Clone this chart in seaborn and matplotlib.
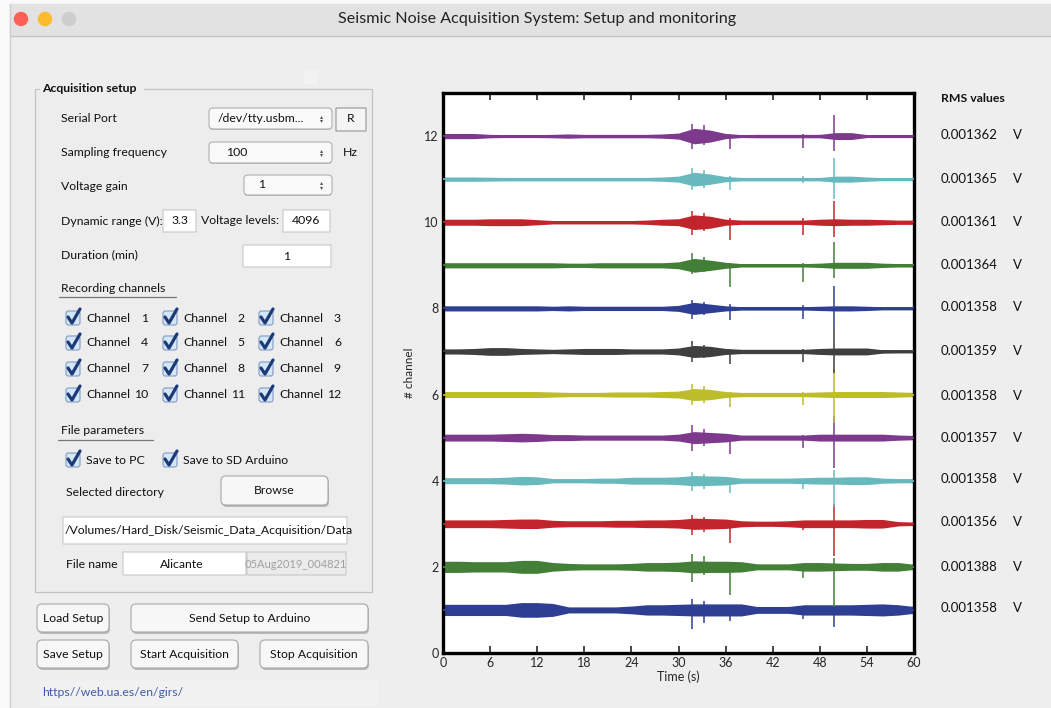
import numpy as np
import pandas as pd
import matplotlib
matplotlib.use("Agg")
import matplotlib.pyplot as plt
from matplotlib.patches import Rectangle, FancyBboxPatch, Circle
import seaborn as sns

# ---- data ----
time_s = list(range(0, 61, 2))
channels = list(range(1, 13))
channel_colors = ["#2E3F93", "#447F38", "#C2242B", "#68B9BE", "#7D3A8C", "#BDBD2C",
                  "#3F3F3F", "#2E3F93", "#447F38", "#C2242B", "#68B9BE", "#7D3A8C"]

# half-width of the noise band (channel units) every 2 s
env_ch1 = [.13, .13, .13, .13, .13, .17, .17, .15, .07, .07, .07, .07, .09, .12, .12, .13, .14, .14, .14, .14, .08, .08, .08, .12, .12, .12, .12, .13, .14, .12, .08]
env_ch2 = [.13, .13, .12, .12, .12, .15, .15, .10, .08, .07, .07, .07, .08, .10, .10, .11, .14, .13, .13, .12, .07, .07, .07, .10, .10, .09, .08, .08, .10, .10, .06]
env_ch3 = [.09, .09, .09, .09, .10, .11, .11, .08, .07, .07, .07, .08, .08, .09, .09, .10, .13, .12, .11, .07, .06, .06, .07, .09, .09, .09, .09, .10, .10, .05, .04]
env_ch4 = [.07, .07, .07, .07, .08, .10, .09, .05, .05, .05, .06, .06, .08, .08, .08, .09, .12, .11, .10, .06, .06, .06, .06, .07, .08, .08, .09, .09, .06, .05, .05]
env_ch5 = [.08, .08, .08, .08, .09, .10, .09, .07, .07, .06, .06, .06, .06, .06, .06, .08, .14, .12, .10, .06, .06, .06, .06, .06, .08, .08, .08, .08, .08, .06, .05]
env_ch6 = [.07, .07, .07, .07, .07, .07, .07, .06, .05, .05, .05, .06, .06, .06, .07, .08, .14, .12, .07, .05, .05, .05, .05, .05, .06, .07, .07, .07, .07, .06, .05]
env_ch7 = [.06, .06, .07, .09, .09, .07, .06, .05, .06, .07, .07, .07, .06, .06, .06, .08, .14, .12, .07, .05, .05, .05, .05, .05, .07, .08, .08, .08, .04, .035, .035]
env_ch8 = [.06, .06, .06, .06, .06, .06, .06, .05, .06, .05, .05, .05, .05, .05, .05, .07, .14, .10, .06, .04, .04, .04, .04, .04, .05, .06, .06, .05, .035, .035, .035]
env_ch9 = [.06, .06, .06, .06, .06, .06, .06, .06, .05, .05, .06, .06, .06, .06, .06, .08, .16, .12, .07, .04, .04, .04, .04, .04, .05, .07, .07, .07, .05, .04, .04]
env_ch10 = [.07, .07, .07, .08, .08, .08, .06, .04, .04, .04, .04, .04, .04, .05, .07, .08, .17, .14, .07, .05, .05, .05, .05, .05, .07, .08, .07, .07, .06, .05, .05]
env_ch11 = [.05, .05, .05, .045, .04, .04, .04, .04, .04, .04, .04, .04, .04, .04, .05, .07, .16, .12, .06, .04, .04, .04, .04, .04, .04, .07, .07, .05, .035, .035, .035]
env_ch12 = [.06, .06, .06, .04, .035, .035, .035, .04, .05, .04, .04, .04, .04, .04, .05, .07, .18, .14, .06, .035, .04, .04, .04, .04, .04, .08, .08, .035, .035, .035, .035]

# transient spikes seen on every channel
spike_times = [31.7, 33.3, 36.6, 45.9, 49.8]
up_ch1 = [.25, .20, .05, .05, .05];  down_ch1 = [.45, .30, .25, .20, .40]
up_ch2 = [.30, .25, .10, .05, .20];  down_ch2 = [.35, .20, .65, .25, .94]
up_ch3 = [.20, .15, .05, .05, .45];  down_ch3 = [.25, .20, .45, .15, .75]
up_ch4 = [.20, .15, .05, .05, .24];  down_ch4 = [.25, .20, .28, .20, .60]
up_ch5 = [.30, .20, .05, .05, .50];  down_ch5 = [.30, .20, .38, .25, .70]
up_ch6 = [.25, .20, .05, .05, .60];  down_ch6 = [.25, .20, .28, .25, .65]
up_ch7 = [.25, .15, .05, .05, .55];  down_ch7 = [.25, .15, .28, .25, .50]
up_ch8 = [.20, .15, .10, .08, .52];  down_ch8 = [.25, .15, .28, .25, .45]
up_ch9 = [.28, .20, .05, .05, .55];  down_ch9 = [.20, .15, .50, .38, .30]
up_ch10 = [.25, .22, .10, .10, .50]; down_ch10 = [.30, .20, .42, .30, .35]
up_ch11 = [.25, .22, .08, .08, .50]; down_ch11 = [.25, .20, .25, .10, .45]
up_ch12 = [.28, .25, .05, .05, .50]; down_ch12 = [.30, .20, .30, .27, .35]

rms_values = ["0.001358", "0.001388", "0.001356", "0.001358", "0.001357", "0.001358",
              "0.001359", "0.001358", "0.001364", "0.001361", "0.001365", "0.001362"]
x_ticks = [0, 6, 12, 18, 24, 30, 36, 42, 48, 54, 60]
y_ticks = [0, 2, 4, 6, 8, 10, 12]

envs = [env_ch1, env_ch2, env_ch3, env_ch4, env_ch5, env_ch6,
        env_ch7, env_ch8, env_ch9, env_ch10, env_ch11, env_ch12]
ups = [up_ch1, up_ch2, up_ch3, up_ch4, up_ch5, up_ch6,
       up_ch7, up_ch8, up_ch9, up_ch10, up_ch11, up_ch12]
downs = [down_ch1, down_ch2, down_ch3, down_ch4, down_ch5, down_ch6,
         down_ch7, down_ch8, down_ch9, down_ch10, down_ch11, down_ch12]

traces = pd.DataFrame({
    "Time": np.tile(time_s, len(channels)),
    "Channel": np.repeat(channels, len(time_s)),
    "Half": np.concatenate(envs),
})

sns.set_style("white")
plt.rcParams["font.family"] = ["Lato", "DejaVu Sans"]

W, H = 1051, 708
fig = plt.figure(figsize=(W / 100, H / 100), dpi=100)

# ---- window / GUI drawn in pixel coordinates ----
gui = fig.add_axes([0, 0, 1, 1])
gui.set_xlim(0, W)
gui.set_ylim(H, 0)
gui.axis("off")

gui.add_patch(Rectangle((0, 0), W, H, color="#FAFAFA", zorder=0))
gui.add_patch(Rectangle((10, 4), W - 10, H, color="#EEEEEE", zorder=1))
gui.add_patch(Rectangle((10, 4), W - 10, 32, color="#E2E2E2", zorder=1))
gui.plot([10, W], [36, 36], color="#C4C4C4", lw=1, zorder=2)
gui.plot([10, 10], [4, H], color="#D0D0D0", lw=1, zorder=2)
for cx, col in [(21, "#FE5F57"), (45, "#FDBB2E"), (69, "#CDCDCD")]:
    gui.add_patch(Circle((cx, 19), 6.5, color=col, zorder=3))
gui.text(537, 19, "Seismic Noise Acquisition System: Setup and monitoring",
         ha="center", va="center", fontsize=11.6, color="#222222", zorder=3)

fs = 8.8


def label(x, y, s, **kw):
    kw.setdefault("fontsize", fs)
    kw.setdefault("color", "#111111")
    gui.text(x, y, s, va="center", zorder=5, **kw)


def box(x0, y0, x1, y1, face="white", edge="#C9C9C9", rnd=0, lw=0.8):
    gui.add_patch(FancyBboxPatch((x0, y0), x1 - x0, y1 - y0,
                                 boxstyle=f"round,pad=0,rounding_size={rnd}",
                                 fc=face, ec=edge, lw=lw, zorder=4))


def button(x0, y0, x1, y1, s):
    box(x0 + 1, y0 + 2, x1 + 1, y1 + 2, face="#B9B9B9", edge="none", rnd=5)
    box(x0, y0, x1, y1, face="#F7F7F7", edge="#A8A8A8", rnd=5)
    gui.text((x0 + x1) / 2, (y0 + y1) / 2, s, ha="center", va="center",
             fontsize=fs, color="#111111", zorder=5)


def popup(x0, y0, x1, y1, s, tx):
    box(x0, y0 + 1, x1, y1 + 1, face="#BDBDBD", edge="none", rnd=4)
    box(x0, y0, x1, y1, face="#F9F9F9", edge="#B0B0B0", rnd=4)
    label(tx, (y0 + y1) / 2, s)
    gui.text(x1 - 10, (y0 + y1) / 2, "\u25B4\n\u25BE", ha="center", va="center",
             fontsize=4.5, linespacing=0.8, color="#555555", zorder=5)


def checkbox(x, y, s, num=None):
    box(x - 7, y - 7, x + 7, y + 7, face="#D5E6F8", edge="#7F9CC2", rnd=2.5)
    gui.plot([x - 5, x - 1, x + 7], [y - 1, y + 5, y - 9], color="#1C3A78",
             lw=2.3, solid_capstyle="round", solid_joinstyle="round", zorder=6)
    label(x + 13, y, s)
    if num is not None:
        label(x + 75, y, str(num), ha="right")


# group box
gui.add_patch(Rectangle((35, 89), 337, 503, fc="#EDEDED", ec="#C2C2C2", lw=0.9, zorder=3))
gui.add_patch(Rectangle((40, 82), 104, 14, fc="#EEEEEE", ec="none", zorder=4))
label(42, 89, "Acquisition setup", fontweight="bold")
gui.add_patch(Rectangle((304, 70), 14, 14, fc="#F2F2F2", ec="none", zorder=2))

label(61, 118, "Serial Port")
popup(209, 108, 332, 129, "/dev/tty.usbm...", 218)
box(336, 108, 366, 131, face="#F4F4F4", edge="#A0A0A0", lw=0.9)
label(351, 119, "R", ha="center")

label(61, 153, "Sampling frequency")
popup(209, 142, 332, 163, "100", 226)
label(343, 153, "Hz")

label(61, 187, "Voltage gain")
popup(244, 175, 332, 195, "1", 258)

label(61, 221, "Dynamic range (V):")
box(163, 210, 196, 232)
label(180, 221, "3.3", ha="center")
label(201, 221, "Voltage levels:")
box(283, 210, 330, 232)
label(306, 221, "4096", ha="center")

label(61, 255, "Duration (min)")
box(243, 245, 331, 267)
label(287, 256, "1", ha="center")

label(61, 289, "Recording channels")
gui.plot([59, 176], [297, 297], color="#777777", lw=0.9, zorder=5)

row_y = [318, 343, 369, 395]
col_x = [73, 170, 266]
for i, ch in enumerate(channels):
    r, c = divmod(i, 3)
    checkbox(col_x[c], row_y[r], "Channel", ch)

label(61, 431, "File parameters")
gui.plot([58, 153], [440, 440], color="#777777", lw=0.9, zorder=5)
checkbox(73, 460, "Save to PC")
checkbox(170, 460, "Save to SD Arduino")

label(66, 492, "Selected directory")
button(221, 476, 328, 505, "Browse")

box(63, 517, 347, 544)
label(65, 530, "/Volumes/Hard_Disk/Seismic_Data_Acquisition/Data")

label(66, 564, "File name")
box(123, 552, 246, 575)
label(182, 564, "Alicante", ha="center")
box(247, 552, 346, 575, face="#EBEBEB", edge="#C8C8C8")
label(296, 564, "05Aug2019_004821", ha="center", color="#A0A0A0", fontsize=8)

button(37, 604, 109, 632, "Load Setup")
button(131, 604, 368, 632, "Send Setup to Arduino")
button(37, 640, 109, 668, "Save Setup")
button(131, 640, 238, 668, "Start Acquisition")
button(260, 640, 368, 668, "Stop Acquisition")

gui.add_patch(Rectangle((40, 681), 338, 25, fc="#F1F1F1", ec="none", zorder=3))
label(42, 692, "https//web.ua.es/en/girs/", color="#3F5DA6")

# RMS column
label(941, 98, "RMS values", fontweight="bold")
rms_rows_px = [608, 567, 522, 479, 438, 396, 351, 307, 265, 222, 179, 135]

# ---- seismic traces ----
ax = fig.add_axes([443 / W, 1 - 653 / H, 471 / W, 560 / H])
ax.set_zorder(10)
for ch, col, up, dn, ry in zip(channels, channel_colors, ups, downs, rms_rows_px):
    d = traces[traces["Channel"] == ch]
    ax.fill_between(d["Time"], ch - d["Half"], ch + d["Half"], color=col, lw=0, zorder=2)
    sns.lineplot(x=d["Time"], y=d["Channel"], color=col, lw=1.3, ax=ax, zorder=3)
    ax.vlines(spike_times, [ch - v for v in dn], [ch + v for v in up],
              color=col, lw=1.1, zorder=3)
    label(941, ry, rms_values[ch - 1], fontsize=9.5)
    label(1013, ry, "V", fontsize=9.5)

ax.set_xlim(0, 60)
ax.set_ylim(0, 13)
ax.set_xticks(x_ticks)
ax.set_yticks(y_ticks)
ax.tick_params(axis="x", direction="in", top=True, bottom=True, length=5,
               width=1.2, labelsize=9, pad=3)
ax.tick_params(axis="y", length=0, labelsize=9, pad=3)
ax.set_xlabel("Time (s)", fontsize=9, labelpad=1)
ax.set_ylabel("# channel", fontsize=8.5, labelpad=7)
for s in ax.spines.values():
    s.set_linewidth(2.4)
    s.set_color("black")
ax.set_facecolor("white")

fig.savefig("out.png", dpi=100, facecolor="#EEEEEE")
